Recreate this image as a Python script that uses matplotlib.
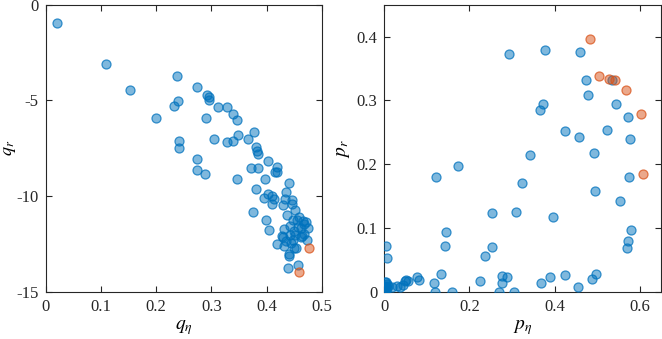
import matplotlib.pyplot as plt
from matplotlib.colors import to_rgba
from matplotlib.ticker import FuncFormatter

plt.rcParams['font.family'] = ['Liberation Serif', 'DejaVu Serif']
plt.rcParams['mathtext.fontset'] = 'stix'
plt.rcParams['axes.unicode_minus'] = False

# left panel: q_eta vs q_r
q_eta = [0.0205, 0.1087, 0.152, 0.237, 0.239, 0.2325, 0.199, 0.241, 0.2415,
         0.274, 0.2917, 0.2965, 0.2965, 0.291, 0.274, 0.274, 0.289, 0.313,
         0.3285, 0.339, 0.3467, 0.304, 0.3285, 0.339, 0.349, 0.346, 0.3665,
         0.378, 0.3816, 0.3822, 0.3847, 0.371, 0.3847, 0.3816, 0.375, 0.398,
         0.402, 0.4185, 0.4155, 0.419, 0.402, 0.3955, 0.4106, 0.4137, 0.4106,
         0.399, 0.404, 0.4197, 0.440, 0.435, 0.433, 0.4305, 0.447, 0.447,
         0.451, 0.459, 0.4475, 0.442, 0.4318, 0.4505, 0.4275, 0.4294, 0.4426,
         0.4487, 0.431, 0.453, 0.450, 0.440, 0.4406, 0.4396, 0.4656, 0.4716,
         0.4674, 0.4752, 0.4577, 0.462, 0.465, 0.462, 0.4728, 0.4565, 0.437,
         0.444, 0.455, 0.468, 0.436, 0.452]
q_r = [-0.97, -3.11, -4.43, -3.74, -5.02, -5.30, -5.94, -7.13, -7.47,
       -4.31, -4.69, -4.81, -4.95, -5.89, -8.08, -8.62, -8.85, -5.35,
       -5.35, -5.72, -6.03, -7.02, -7.18, -7.11, -6.81, -9.11, -6.99,
       -6.67, -7.42, -7.63, -7.80, -8.53, -8.55, -9.60, -10.81, -9.09,
       -8.15, -8.45, -8.73, -8.76, -9.87, -10.08, -10.01, -10.15, -10.43,
       -11.26, -11.75, -12.50, -9.32, -9.80, -10.15, -10.46, -10.19, -10.38,
       -10.71, -11.06, -11.26, -11.54, -11.72, -11.82, -12.06, -12.13, -12.03,
       -12.27, -12.62, -12.69, -12.71, -13.00, -13.14, -13.73, -11.30, -11.37,
       -11.44, -11.68, -11.58, -11.66, -12.10, -12.15, -12.27, -13.59, -11.00,
       -12.45, -11.25, -11.95, -12.35, -12.00]
q_eta_hi = [0.477, 0.4595]
q_r_hi = [-12.69, -13.96]

# right panel: p_eta vs p_r
p_eta = [0.003, 0.0055, 0.0, 0.002, 0.004, 0.006, 0.001, 0.003, 0.007,
         0.009, 0.002, 0.005, 0.017, 0.029, 0.037, 0.043, 0.048, 0.052,
         0.056, 0.0775, 0.082, 0.116, 0.12, 0.134, 0.159, 0.1205, 0.173,
         0.146, 0.142, 0.225, 0.236, 0.252, 0.254, 0.270, 0.276, 0.277,
         0.288, 0.304, 0.3105, 0.293, 0.3246, 0.342, 0.366, 0.372, 0.377,
         0.368, 0.389, 0.3966, 0.4247, 0.4247, 0.456, 0.4576, 0.4607, 0.474,
         0.4795, 0.488, 0.4967, 0.4935, 0.496, 0.524, 0.534, 0.5436, 0.5538,
         0.5725, 0.578, 0.575, 0.5796, 0.5725, 0.571]
p_r = [0.0726, 0.0527, 0.0005, 0.004, 0.008, 0.012, 0.015, 0.002, 0.006,
       0.010, 0.010, 0.016, 0.008, 0.010, 0.008, 0.0115, 0.0167, 0.019,
       0.0167, 0.023, 0.0188, 0.0136, 0.0005, 0.028, 0.0005, 0.180, 0.197,
       0.0935, 0.0726, 0.0167, 0.057, 0.071, 0.124, 0.0005, 0.0245, 0.0136,
       0.023, 0.0005, 0.126, 0.373, 0.1708, 0.215, 0.2856, 0.295, 0.3786,
       0.0136, 0.023, 0.118, 0.0266, 0.2527, 0.0073, 0.2423, 0.376, 0.3326,
       0.308, 0.0204, 0.028, 0.2178, 0.1587, 0.2543, 0.332, 0.294, 0.142,
       0.274, 0.240, 0.1796, 0.0977, 0.080, 0.0684]
p_eta_hi = [0.484, 0.505, 0.5287, 0.543, 0.567, 0.603, 0.6085]
p_r_hi = [0.3963, 0.3379, 0.3337, 0.3326, 0.317, 0.2789, 0.1849]

blue = '#0072BD'
orange = '#D95319'
axis_col = '#262626'


def style_axes(ax):
    ax.tick_params(direction='in', top=True, right=True, labelsize=12,
                   colors=axis_col, length=4, width=0.8, pad=5)
    for s in ax.spines.values():
        s.set_color(axis_col)
        s.set_linewidth(0.8)


def scatter(ax, x, y, c):
    ax.scatter(x, y, s=42, facecolor=to_rgba(c, 0.5),
               edgecolor=to_rgba(c, 0.75), linewidths=0.9, zorder=3)


fig = plt.figure(figsize=(6.62, 3.39), dpi=100)
ax1 = fig.add_axes([0.069, 0.1386, 0.417, 0.8475])
ax2 = fig.add_axes([0.5805, 0.1386, 0.418, 0.8475])

scatter(ax1, q_eta, q_r, blue)
scatter(ax1, q_eta_hi, q_r_hi, orange)
ax1.set_xlim(0, 0.5)
ax1.set_ylim(-15, 0)
ax1.set_xticks([0, 0.1, 0.2, 0.3, 0.4, 0.5])
ax1.set_yticks([-15, -10, -5, 0])
ax1.xaxis.set_major_formatter(FuncFormatter(lambda v, p: f'{v:g}'))
ax1.yaxis.set_major_formatter(FuncFormatter(lambda v, p: f'{v:g}'))
ax1.set_xlabel(r'$q_\eta$', fontsize=14, labelpad=2)
ax1.set_ylabel(r'$q_r$', fontsize=13)
ax1.yaxis.set_label_coords(-0.1, 0.5)
style_axes(ax1)

scatter(ax2, p_eta, p_r, blue)
scatter(ax2, p_eta_hi, p_r_hi, orange)
ax2.set_xlim(0, 0.65)
ax2.set_ylim(0, 0.45)
ax2.set_xticks([0, 0.2, 0.4, 0.6])
ax2.set_yticks([0, 0.1, 0.2, 0.3, 0.4])
ax2.xaxis.set_major_formatter(FuncFormatter(lambda v, p: f'{v:g}'))
ax2.yaxis.set_major_formatter(FuncFormatter(lambda v, p: f'{v:g}'))
ax2.set_xlabel(r'$p_\eta$', fontsize=14, labelpad=2)
ax2.set_ylabel(r'$p_r$', fontsize=14)
ax2.yaxis.set_label_coords(-0.118, 0.5)
style_axes(ax2)

fig.savefig('out.png', dpi=100)
